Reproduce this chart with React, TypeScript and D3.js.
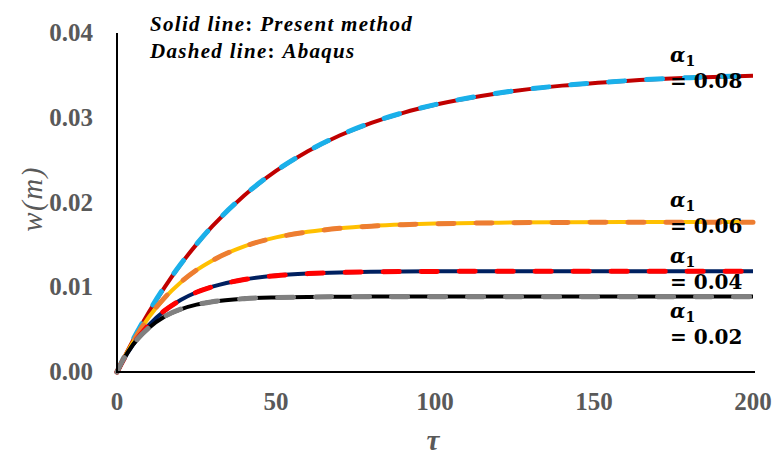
import React from "react";
import * as d3 from "d3";

const tau = [0, 2, 5, 10, 15, 20, 25, 30, 40, 50, 60, 70, 80, 90, 100, 120, 140, 160, 180, 200];

// Present method (solid lines)
const solid008 = [0, 0.00154, 0.0037, 0.00705, 0.01002, 0.01268, 0.01506, 0.0172, 0.02082, 0.02372, 0.02604, 0.0279, 0.02939, 0.03058, 0.03153, 0.0329, 0.03379, 0.03435, 0.03472, 0.03496];
const solid006 = [0, 0.0015, 0.0035, 0.00646, 0.00875, 0.01057, 0.01202, 0.01317, 0.01483, 0.01588, 0.01654, 0.01697, 0.01723, 0.0174, 0.01751, 0.01762, 0.01767, 0.0177, 0.0177, 0.0177];
const solid004 = [0, 0.0014, 0.00319, 0.00553, 0.00724, 0.00849, 0.00941, 0.01007, 0.01092, 0.01138, 0.01162, 0.01175, 0.01182, 0.01186, 0.01188, 0.0119, 0.0119, 0.0119, 0.0119, 0.0119];
const solid002 = [0, 0.00145, 0.0032, 0.0052, 0.00655, 0.0074, 0.00795, 0.0083, 0.00866, 0.0088, 0.00886, 0.00888, 0.0089, 0.0089, 0.0089, 0.0089, 0.0089, 0.0089, 0.0089, 0.0089];

// Abaqus (dashed lines)
const dashed008 = [0, 0.0016, 0.0038, 0.00712, 0.01008, 0.01272, 0.01508, 0.01722, 0.02084, 0.02374, 0.02606, 0.02792, 0.02941, 0.0306, 0.03155, 0.03292, 0.0338, 0.03436, 0.03473, 0.03497];
const dashed006 = [0, 0.00152, 0.00355, 0.0065, 0.00878, 0.01058, 0.01203, 0.01316, 0.01482, 0.01586, 0.01652, 0.01695, 0.01721, 0.01738, 0.01749, 0.0176, 0.01765, 0.01768, 0.01768, 0.01768];
const dashed004 = [0, 0.00142, 0.00322, 0.00555, 0.00725, 0.0085, 0.00941, 0.01006, 0.01091, 0.01137, 0.01161, 0.01174, 0.01181, 0.01185, 0.01187, 0.01189, 0.01189, 0.01189, 0.01189, 0.01189];
const dashed002 = [0, 0.00146, 0.00322, 0.00522, 0.00656, 0.00741, 0.00795, 0.0083, 0.00865, 0.00879, 0.00885, 0.00887, 0.00888, 0.00888, 0.00888, 0.00888, 0.00888, 0.00888, 0.00888, 0.00888];

const xTicks = [0, 50, 100, 150, 200];
const yTicks = [0, 0.01, 0.02, 0.03, 0.04];
const alphaLabels = ["0.08", "0.06", "0.04", "0.02"];

const series = [
  { solid: solid008, dashed: dashed008, solidColor: "#C00000", dashColor: "#1AB0EA", label: alphaLabels[0], labelY: 62 },
  { solid: solid006, dashed: dashed006, solidColor: "#FFC000", dashColor: "#ED7D31", label: alphaLabels[1], labelY: 207 },
  { solid: solid004, dashed: dashed004, solidColor: "#002060", dashColor: "#FF0000", label: alphaLabels[2], labelY: 263 },
  { solid: solid002, dashed: dashed002, solidColor: "#000000", dashColor: "#808080", label: alphaLabels[3], labelY: 318 },
];

export default function App() {
  const x = d3.scaleLinear().domain([0, 200]).range([117, 753]);
  const y = d3.scaleLinear().domain([0, 0.04]).range([372, 33]);
  const line = (vals: number[]) =>
    d3
      .line<number>()
      .x((_, i) => x(tau[i]))
      .y((d) => y(d))
      .curve(d3.curveMonotoneX)(vals) as string;

  const serif = "'Liberation Serif', 'Times New Roman', serif";
  const mathFont = "'DejaVu Serif', serif";
  const tickFont = { fontFamily: serif, fontWeight: 700, fontSize: 25, fill: "#595959" } as const;

  return (
    <svg width={772} height={457} style={{ position: "absolute", left: 0, top: 0, background: "#fff" }}>
      {series.map((s, k) => (
        <g key={k}>
          <path d={line(s.solid)} fill="none" stroke={s.solidColor} strokeWidth={4} />
          <path
            d={line(s.dashed)}
            fill="none"
            stroke={s.dashColor}
            strokeWidth={5}
            strokeLinecap="round"
            strokeDasharray="16 22"
          />
        </g>
      ))}
      {/* axes */}
      <line x1={117} x2={117} y1={y(0.04)} y2={373} stroke="#000" strokeWidth={2} />
      <line x1={116} x2={755} y1={372} y2={372} stroke="#000" strokeWidth={2} />
      {yTicks.map((t) => (
        <text key={t} x={93} y={y(t) + 8} textAnchor="end" {...tickFont}>
          {t.toFixed(2)}
        </text>
      ))}
      {xTicks.map((t) => (
        <text key={t} x={x(t)} y={410} textAnchor="middle" {...tickFont}>
          {t}
        </text>
      ))}
      <text
        transform="translate(42,199) rotate(-90)"
        textAnchor="middle"
        fontFamily={serif}
        fontStyle="italic"
        fontSize={29}
        letterSpacing={1.5}
        fill="#595959"
      >
        w(m)
      </text>
      <text x={433} y={450} textAnchor="middle" fontFamily={serif} fontStyle="italic" fontWeight={700} fontSize={29} fill="#595959">
        τ
      </text>
      {/* legend note */}
      <text x={150} y={31} fontFamily={serif} fontStyle="italic" fontWeight={700} fontSize={21} letterSpacing={1.3} fill="#000">
        Solid line<tspan fontStyle="normal">: </tspan>Present method
      </text>
      <text x={150} y={58} fontFamily={serif} fontStyle="italic" fontWeight={700} fontSize={21} letterSpacing={1.3} fill="#000">
        Dashed line<tspan fontStyle="normal">: </tspan>Abaqus
      </text>
      {series.map((s, k) => (
        <g key={"l" + k}>
          <text x={670} y={s.labelY} fontFamily={mathFont} fontWeight={700} fontSize={20} fill="#000">
            <tspan fontStyle="italic">α</tspan>
            <tspan fontSize={14} dy={4}>1</tspan>
          </text>
          <text x={670} y={s.labelY + 26} fontFamily={mathFont} fontWeight={700} fontSize={20} fill="#000">
            = {s.label}
          </text>
        </g>
      ))}
    </svg>
  );
}
